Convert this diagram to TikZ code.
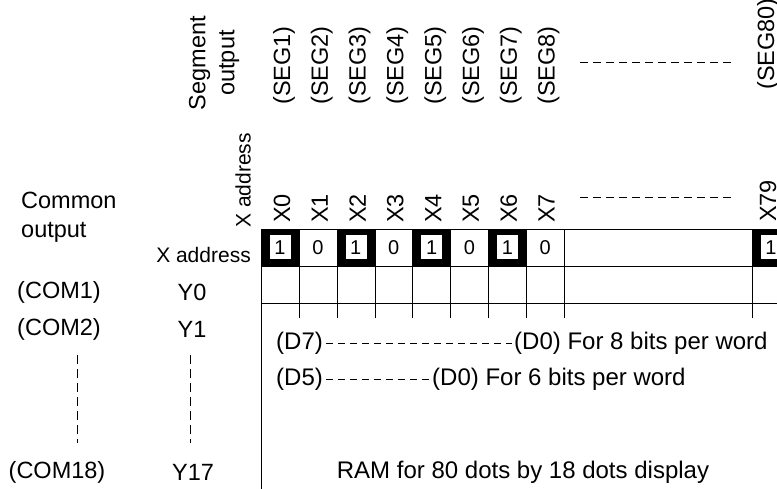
\documentclass[tikz,border=0pt]{standalone}
\usepackage{fontspec}
\setmainfont{Liberation Sans}
\begin{document}
\begin{tikzpicture}[x=1pt,y=-1pt,
  lbl/.style={inner sep=0pt,font=\fontsize{23.5}{29}\selectfont},
  vlbl/.style={lbl,rotate=90},
  big/.style={font=\fontsize{24}{28}\selectfont},
  small/.style={font=\fontsize{21}{26}\selectfont},
  celltxt/.style={inner sep=0pt,font=\fontsize{20}{23}\selectfont},
  grid/.style={line width=1pt},
  dline/.style={dash pattern=on 8pt off 5pt,line width=1pt}]
\useasboundingbox (0,0) rectangle (777,488);
\clip (0,0) rectangle (777,488);
% black cells
\foreach \i/\a/\b in {0/261/299,2/337/375,4/412.5/450,6/488/526,79/752/790}{
  \fill (\a,229) rectangle (\b,266);
  \fill[white] ({\a+8.5},235) rectangle ({\b-8.5},259);
}
% grid lines
\draw[grid] (261,229) -- (800,229);
\draw[grid] (261,266) -- (800,266);
\draw[grid] (261,303) -- (800,303);
\draw[grid] (261,229) -- (261,490);
\foreach \x in {299,337,375,412.5,450,488,526,564,752}{
  \draw[grid] (\x,229) -- (\x,318);
}
% cell values
\foreach \v [count=\k from 0] in {1,0,1,0,1,0,1,0}{
  \node[celltxt] (c\k) at ({280+37.9*\k},247.5) {\v};
}
\node[celltxt] (c79) at (771,247.5) {1};
% segment outputs
\node[vlbl,align=center] (segout) at (214,63) {Segment\\output};
\foreach \k in {1,...,8}{
  \node[vlbl,anchor=west] (seg\k) at ({284+37.8*(\k-1)},105) {(SEG\k)};
}
\node[vlbl,anchor=west] (seg80) at (768,90) {(SEG80)};
\draw[dline] (580,62) -- (732,62);
% X address labels
\node[vlbl,small,anchor=west] (xaddrv) at (243,228) {X address};
\foreach \k in {0,...,7}{
  \node[vlbl,anchor=west] (x\k) at ({282+37.8*\k},223) {X\k};
}
\node[vlbl,anchor=west] (x79) at (768,222) {X79};
\draw[dline] (580,197) -- (732,197);
% left labels
\node[lbl,align=left,anchor=base west] (common) at (21,237) {Common\\output};
\node[lbl,small,anchor=base east] (xaddrh) at (251,262) {X address};
\node[lbl] (com1) at (59,292) {(COM1)};
\node[lbl] (y0) at (192,292) {Y0};
\node[lbl] (com2) at (59,329) {(COM2)};
\node[lbl] (y1) at (192,329) {Y1};
\node[lbl] (com18) at (57,472) {(COM18)};
\node[lbl] (y17) at (193,472) {Y17};
\draw[dline,dash pattern=on 9pt off 5pt] (77,355) -- (77,443);
\draw[dline,dash pattern=on 9pt off 5pt] (190,355) -- (190,443);
% data bit labels
\node[lbl,big,anchor=west] (d7) at (276,343) {(D7)};
\node[lbl,big,anchor=west] (d0a) at (514,343) {(D0) For 8 bits per word};
\node[lbl,big,anchor=west] (d5) at (276,379) {(D5)};
\node[lbl,big,anchor=west] (d0b) at (432,379) {(D0) For 6 bits per word};
\draw[dline,dash pattern=on 7pt off 5pt] ([xshift=3pt]d7.east) -- ([xshift=-2pt]d0a.west);
\draw[dline,dash pattern=on 7pt off 5pt] ([xshift=3pt]d5.east) -- ([xshift=-2pt]d0b.west);
\node[lbl,big] (ram) at (523,472) {RAM for 80 dots by 18 dots display};
\end{tikzpicture}
\end{document}
